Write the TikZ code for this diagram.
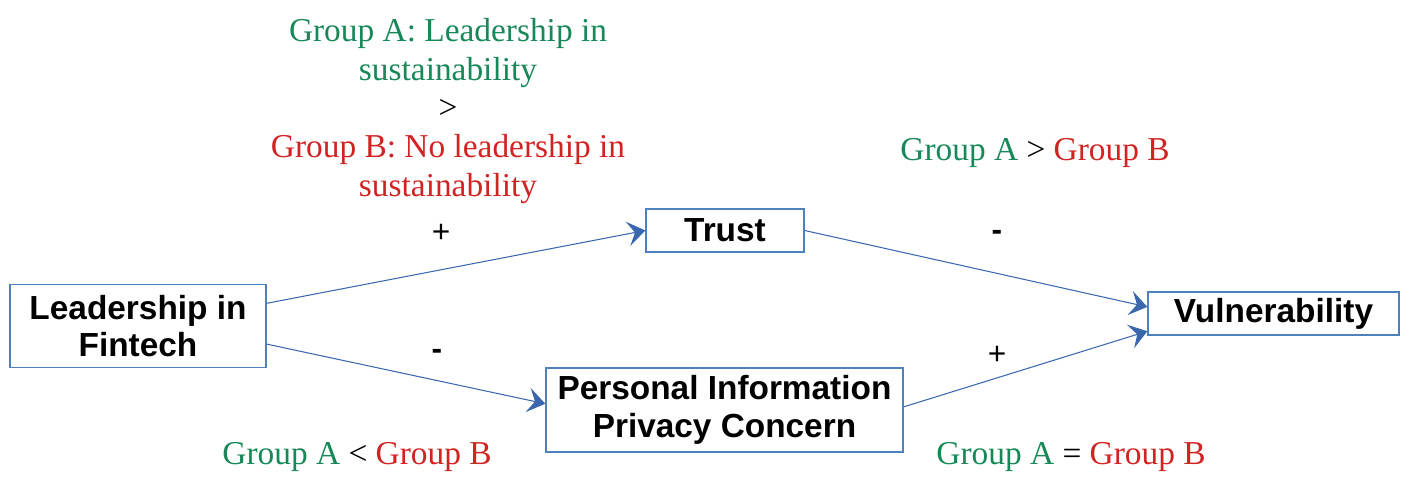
\documentclass[tikz,border=0pt]{standalone}
\usepackage{fontspec}
\setmainfont{Liberation Serif}
\setsansfont{Liberation Sans}
\usetikzlibrary{arrows.meta,positioning}
\definecolor{groupa}{RGB}{24,136,88}
\definecolor{groupb}{RGB}{210,35,35}
\definecolor{boxline}{RGB}{79,129,189}
\definecolor{arrowline}{RGB}{59,103,175}

\begin{document}
\begin{tikzpicture}[x=0.02cm, y=-0.02cm,
    box/.style={draw=boxline, line width=0.8pt, align=center, inner sep=0pt,
        font=\sffamily\bfseries\fontsize{19}{21.5}\selectfont},
    link/.style={draw=arrowline, line width=0.6pt,
        -{Stealth[length=10pt, width=14pt, inset=4pt, fill=arrowline]}},
    grp/.style={align=center, font=\fontsize{19}{22.1}\selectfont},
    sign/.style={font=\sffamily\fontsize{18}{18}\selectfont}]
\useasboundingbox (0,0) rectangle (1410,486);

% Boxes
\node[box, minimum width=5.12cm, minimum height=1.66cm] (lead) at (138,326) {Leadership in\\Fintech};
\node[box, minimum width=3.16cm, minimum height=0.86cm] (trust) at (725,230.5) {Trust};
\node[box, minimum width=7.14cm, minimum height=1.68cm] (pipc) at (724.5,410) {Personal Information\\Privacy Concern};
\node[box, minimum width=5.02cm, minimum height=0.86cm] (vuln) at (1273.5,313.5) {Vulnerability};

% Arrows
\draw[link] (lead.10) -- (trust.west);
\draw[link] (lead.-8) -- (pipc.178);
\draw[link] (trust.east) -- (vuln.177);
\draw[link] (pipc.1) -- (vuln.-172);

% Signs
\node[sign] (s1) at (441,233) {+};
\node[sign] (s2) at (437,354) {\bfseries -};
\node[sign] (s3) at (997,235) {\bfseries -};
\node[sign] (s4) at (997,355) {+};

% Group comparisons
\node[grp] (cmptop) at (448,111) {\textcolor{groupa}{Group A: Leadership in}\\
    \textcolor{groupa}{sustainability}\\ >\\
    \textcolor{groupb}{Group B: No leadership in}\\
    \textcolor{groupb}{sustainability}};
\node[grp] (cmptrust) at (1035,153) {\textcolor{groupa}{Group A} > \textcolor{groupb}{Group B}};
\node[grp] (cmplead) at (357,457) {\textcolor{groupa}{Group A} < \textcolor{groupb}{Group B}};
\node[grp] (cmppipc) at (1071,457) {\textcolor{groupa}{Group A} = \textcolor{groupb}{Group B}};
\end{tikzpicture}
\end{document}
